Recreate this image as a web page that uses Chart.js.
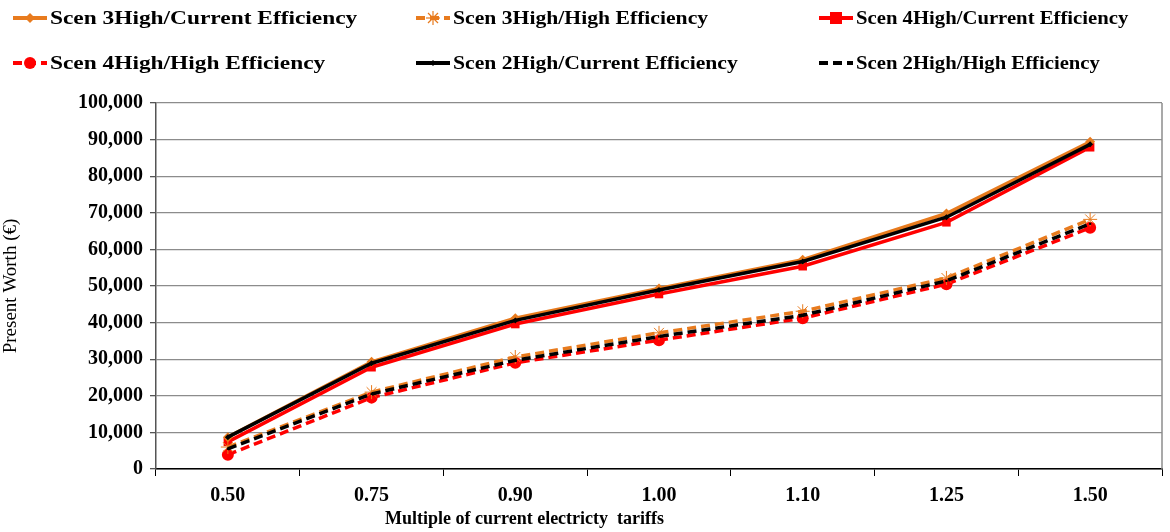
<!DOCTYPE html>
<html>
<head>
<meta charset="utf-8">
<script src="https://cdn.jsdelivr.net/npm/chart.js@4/dist/chart.umd.min.js"></script>
<style>
  html, body { margin: 0; padding: 0; background: #fff; }
  #wrap { position: relative; width: 1170px; height: 532px; }
  #legend { position: absolute; left: 0; top: 0; width: 1170px; height: 90px; font-family: "Liberation Serif", serif; font-weight: bold; font-size: 19px; color: #000; }
  .item { position: absolute; display: flex; align-items: center; white-space: nowrap; }
  .item svg { margin-right: 2px; flex: none; }
  .item span { display: inline-block; transform-origin: left center; }
  #xtitle { position: absolute; left: 385px; top: 508px; font-family: "Liberation Serif", serif; font-weight: bold; font-size: 18px; color: #000; white-space: pre; }
</style>
</head>
<body>
<div id="wrap">
  <canvas id="c" width="1170" height="532"></canvas>
  <div id="legend"></div>
  <div id="xtitle"></div>
</div>
<script>
const categories = ['0.50', '0.75', '0.90', '1.00', '1.10', '1.25', '1.50'];
const seriesNames = [
  'Scen 3High/Current Efficiency', 'Scen 3High/High Efficiency', 'Scen 4High/Current Efficiency',
  'Scen 4High/High Efficiency', 'Scen 2High/Current Efficiency', 'Scen 2High/High Efficiency'
];
const scen3Current = [8700, 29300, 41200, 49300, 57200, 69800, 89400];
const scen3High    = [6000, 21000, 30600, 37200, 43100, 52200, 68200];
const scen4Current = [7400, 27800, 39600, 47800, 55400, 67400, 87900];
const scen4High    = [3900, 19500, 29000, 35200, 41200, 50500, 65900];
const scen2Current = [8700, 28900, 40600, 48900, 56700, 68800, 88700];
const scen2High    = [5500, 20500, 29700, 36200, 42000, 51400, 67000];
const yTicks = [0, 10000, 20000, 30000, 40000, 50000, 60000, 70000, 80000, 90000, 100000];
const xTitle = 'Multiple of current electricty  tariffs';
const yTitle = 'Present Worth (€)';

const ORANGE = '#e87b1e', RED = '#ff0000', BLACK = '#000000';
const styles = [
  { color: ORANGE, dash: [], point: 'rectRot', r: 5, order: 3 },
  { color: ORANGE, dash: [9, 5], point: 'star', r: 7, order: 4 },
  { color: RED, dash: [], point: 'rect', r: 6, order: 5 },
  { color: RED, dash: [9, 5], point: 'circle', r: 6, order: 6 },
  { color: BLACK, dash: [], point: 'rectRot', r: 3, order: 1 },
  { color: BLACK, dash: [9, 5], point: 'rect', r: 1.5, order: 2 }
];
const values = [scen3Current, scen3High, scen4Current, scen4High, scen2Current, scen2High];

const datasets = values.map((v, i) => ({
  label: seriesNames[i],
  data: v,
  borderColor: styles[i].color,
  backgroundColor: styles[i].color,
  borderWidth: 3.5,
  borderDash: styles[i].dash,
  pointStyle: styles[i].point,
  pointRadius: styles[i].r,
  pointBorderWidth: styles[i].point === 'star' ? 1 : 0,
  pointBorderColor: styles[i].color,
  pointBackgroundColor: styles[i].color,
  tension: 0,
  order: styles[i].order
}));

// HTML legend (3 columns x 2 rows)
const legendPos = [[12, 18], [415, 18], [818, 18], [12, 63], [415, 63], [818, 63]];
const colStretch = [1.23, 1.14, 1.09];
const legend = document.getElementById('legend');
styles.forEach((s, i) => {
  const d = document.createElement('div');
  d.className = 'item';
  d.style.left = legendPos[i][0] + 'px';
  d.style.top = (legendPos[i][1] - 12) + 'px';
  const dash = s.dash.length ? 'stroke-dasharray="9,5"' : '';
  let m = '';
  if (s.point === 'rectRot') m = `<polygon points="18,${12 - s.r} ${18 + s.r},12 18,${12 + s.r} ${18 - s.r},12" fill="${s.color}"/>`;
  else if (s.point === 'rect') m = `<rect x="${18 - s.r}" y="${12 - s.r}" width="${2 * s.r}" height="${2 * s.r}" fill="${s.color}"/>`;
  else if (s.point === 'circle') m = `<circle cx="18" cy="12" r="${s.r}" fill="${s.color}"/>`;
  else if (s.point === 'star') m = `<g stroke="${s.color}" stroke-width="1.2"><line x1="18" y1="5" x2="18" y2="19"/><line x1="11" y1="12" x2="25" y2="12"/><line x1="13" y1="7" x2="23" y2="17"/><line x1="23" y1="7" x2="13" y2="17"/></g>`;
  d.innerHTML = `<svg width="36" height="24"><line x1="1" y1="12" x2="35" y2="12" stroke="${s.color}" stroke-width="4" ${dash}/>${m}</svg><span style="transform: scaleX(${colStretch[i % 3]})">${seriesNames[i]}</span>`;
  legend.appendChild(d);
});
document.getElementById('xtitle').textContent = xTitle;

const rightBorder = {
  id: 'rightBorder',
  afterDraw(chart) {
    const a = chart.chartArea, ctx = chart.ctx;
    ctx.save();
    ctx.strokeStyle = '#8c8c8c';
    ctx.lineWidth = 1.5;
    ctx.beginPath();
    ctx.moveTo(a.right, a.top);
    ctx.lineTo(a.right, a.bottom);
    ctx.stroke();
    ctx.restore();
  }
};

new Chart(document.getElementById('c'), {
  type: 'line',
  data: { labels: categories, datasets },
  plugins: [rightBorder],
  options: {
    responsive: false,
    animation: false,
    layout: { padding: { top: 103, right: 8, left: 0, bottom: 0 } },
    plugins: { legend: { display: false }, tooltip: { enabled: false } },
    scales: {
      x: {
        offset: true,
        grid: { offset: true, drawOnChartArea: false, tickLength: 7, color: '#000', tickColor: '#000' },
        border: { color: '#000', width: 1.5 },
        ticks: { color: '#000', font: { family: 'Liberation Serif', weight: 'bold', size: 20 }, padding: 8 },
        title: { display: false },
        afterFit(s) { s.height = 63; }
      },
      y: {
        min: 0, max: 100000,
        afterBuildTicks(s) { s.ticks = yTicks.map(v => ({ value: v })); },
        grid: { color: '#8c8c8c', lineWidth: 1.3, tickLength: 6, tickColor: '#555' },
        border: { color: '#555', width: 1.5 },
        ticks: {
          color: '#000', font: { family: 'Liberation Serif', weight: 'bold', size: 20 }, padding: 7,
          callback: v => v.toLocaleString('en-US')
        },
        title: { display: true, text: yTitle, color: '#000', font: { family: 'Liberation Serif', size: 19 }, padding: { top: 0, bottom: 4 } },
        afterFit(s) { s.width = 156; }
      }
    }
  }
});
</script>
</body>
</html>
